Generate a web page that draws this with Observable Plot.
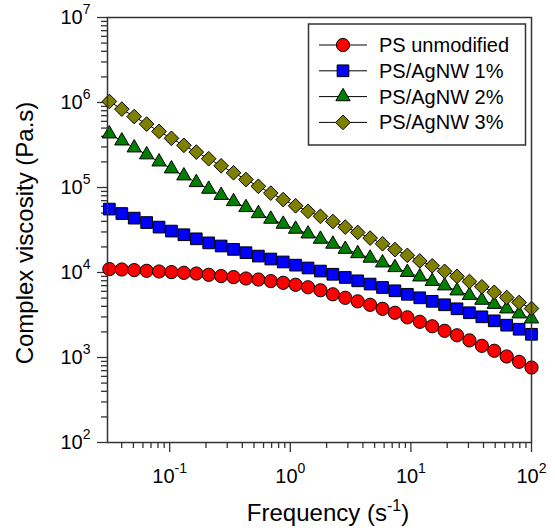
<!DOCTYPE html>
<html><head><meta charset="utf-8">
<script src="https://cdn.jsdelivr.net/npm/d3@7"></script>
<script src="https://cdn.jsdelivr.net/npm/@observablehq/plot@0.6"></script>
<style>body{margin:0;background:#fff} #chart{width:555px;height:530px}</style>
</head><body><div id="chart"></div>
<script>
// ---- data ----
const freq = [0.0316, 0.0401, 0.0508, 0.0644, 0.0816, 0.1034, 0.1311, 0.1662, 0.2106, 0.2670,
  0.3384, 0.4289, 0.5436, 0.6891, 0.8734, 1.107, 1.403, 1.778, 2.254, 2.857,
  3.622, 4.590, 5.818, 7.374, 9.346, 11.85, 15.02, 19.03, 24.12, 30.58,
  38.76, 49.12, 62.26, 78.92, 100];
const psUnmodified = [10960, 10850, 10670, 10470, 10280, 10110, 9920, 9730, 9400, 9070,
  8830, 8500, 8270, 7920, 7570, 7170, 6700, 6180, 5540, 5040,
  4580, 4170, 3740, 3360, 2970, 2630, 2330, 2060, 1825, 1590,
  1373, 1200, 1028, 890, 762];
const psAgNW1 = [55700, 49400, 43600, 38700, 34200, 30700, 27800, 24900, 22300, 20500,
  18700, 17100, 15600, 14400, 13300, 12200, 11300, 10400, 9530, 8740,
  7980, 7310, 6660, 6090, 5540, 5040, 4580, 4170, 3740, 3360,
  3010, 2700, 2400, 2150, 1875];
const psAgNW2 = [428000, 354000, 293000, 243000, 200500, 166000, 137400, 114500, 95700, 80900,
  68400, 58200, 49400, 42500, 37100, 32400, 28500, 24700, 21600, 18800,
  16700, 14800, 13000, 11450, 10050, 8890, 7880, 6980, 6090, 5390,
  4730, 4230, 3740, 3270, 2850];
const psAgNW3 = [1028000, 836000, 683000, 557000, 458000, 379000, 313500, 261000, 218000, 180000,
  149000, 124000, 103300, 85900, 72100, 60900, 52500, 45800, 39800, 34200,
  29600, 25400, 21800, 18600, 15900, 13700, 12000, 10330, 9020, 7840,
  6790, 5850, 5080, 4440, 3770];
const seriesNames = ["PS unmodified", "PS/AgNW 1%", "PS/AgNW 2%", "PS/AgNW 3%"];
const seriesValues = [psUnmodified, psAgNW1, psAgNW2, psAgNW3];
const seriesColors = ["#ff0000", "#0000ff", "#008000", "#808000"];
const seriesSymbols = ["circle", "square", "triangle", "diamond2"];
const seriesR = [6.6, 6.6, 5.3, 6.6];

const xMajorTicks = [0.1, 1, 10, 100];
const xTickLabels = ["10^-1", "10^0", "10^1", "10^2"];
const xMinorTicks = [0.04, 0.05, 0.06, 0.07, 0.08, 0.09, 0.2, 0.3, 0.4, 0.5, 0.6, 0.7, 0.8, 0.9,
  2, 3, 4, 5, 6, 7, 8, 9, 20, 30, 40, 50, 60, 70, 80, 90];
const yMajorTicks = [1e2, 1e3, 1e4, 1e5, 1e6, 1e7];
const yTickLabels = ["10^2", "10^3", "10^4", "10^5", "10^6", "10^7"];
const yMinorTicks = [200, 300, 400, 500, 600, 700, 800, 900,
  2000, 3000, 4000, 5000, 6000, 7000, 8000, 9000,
  20000, 30000, 40000, 50000, 60000, 70000, 80000, 90000,
  200000, 300000, 400000, 500000, 600000, 700000, 800000, 900000,
  2e6, 3e6, 4e6, 5e6, 6e6, 7e6, 8e6, 9e6];
const xTitle = "Frequency (s^-1)";
const yTitle = "Complex viscosity (Pa.s)";

// ---- build ----
const rows = [];
seriesNames.forEach((name, s) => freq.forEach((f, i) => rows.push({series: name, freq: f, eta: seriesValues[s][i]})));

const axisColor = "#333";
const seriesMarks = seriesNames.flatMap((name, s) => {
  const d = rows.filter(r => r.series === name);
  return [
    Plot.line(d, {x: "freq", y: "eta", stroke: "#000", strokeWidth: 1}),
    Plot.dot(d, {x: "freq", y: "eta", symbol: seriesSymbols[s], r: seriesR[s], fill: seriesColors[s], stroke: "#000", strokeWidth: 1})
  ];
});

const chart = Plot.plot({
  width: 555, height: 530,
  marginLeft: 107, marginRight: 24, marginTop: 17, marginBottom: 88,
  style: {fontFamily: "'Liberation Sans', Arial, sans-serif", background: "#fff", color: "#000"},
  x: {type: "log", domain: [0.0305, 100]},
  y: {type: "log", domain: [100, 1e7]},
  marks: [
    Plot.axisX({anchor: "bottom", ticks: xMinorTicks, tickSize: 6, tickFormat: () => "", stroke: axisColor, strokeWidth: 1.3, label: null}),
    Plot.axisX({anchor: "bottom", ticks: xMajorTicks, tickSize: 10, tickPadding: 16, fontSize: 20, stroke: axisColor, strokeWidth: 1.3, label: null,
      tickFormat: d => xTickLabels[xMajorTicks.indexOf(d)]}),
    Plot.axisY({anchor: "left", ticks: yMinorTicks, tickSize: 6, tickFormat: () => "", stroke: axisColor, strokeWidth: 1.3, label: null}),
    Plot.axisY({anchor: "left", ticks: yMajorTicks, tickSize: 10, tickPadding: 7, fontSize: 20, stroke: axisColor, strokeWidth: 1.3, label: null,
      tickFormat: d => yTickLabels[yMajorTicks.indexOf(d)]}),
    ...seriesMarks,
    Plot.frame({stroke: axisColor, strokeWidth: 1.5})
  ]
});

const NS = "http://www.w3.org/2000/svg";
function fillSup(t, s, supSize, shift) {
  const [base, rest] = s.split("^");
  const m = rest.match(/^(-?\d+)(.*)$/);
  t.textContent = "";
  const a = document.createElementNS(NS, "tspan"); a.textContent = base; t.appendChild(a);
  const b = document.createElementNS(NS, "tspan"); b.textContent = m[1];
  b.setAttribute("dy", -shift); b.setAttribute("font-size", supSize); t.appendChild(b);
  if (m[2]) {
    const c = document.createElementNS(NS, "tspan"); c.textContent = m[2];
    c.setAttribute("dy", shift); t.appendChild(c);
  }
}
chart.querySelectorAll("text").forEach(t => {
  const s = t.textContent;
  if (s.includes("^")) fillSup(t, s, 14, 10);
});

const svg = d3.select(chart);
const font = "'Liberation Sans', Arial, sans-serif";
// axis titles
const xt = svg.append("text").attr("x", 328).attr("y", 521).attr("text-anchor", "middle")
  .attr("font-family", font).attr("font-size", 24).attr("fill", "#000").node();
fillSup(xt, xTitle, 16, 10);
svg.append("text").attr("transform", "translate(33,233) rotate(-90)").attr("text-anchor", "middle")
  .attr("font-family", font).attr("font-size", 24).attr("fill", "#000").text(yTitle);

// legend
const lg = svg.append("g");
lg.append("rect").attr("x", 308.5).attr("y", 24).attr("width", 217).attr("height", 121)
  .attr("fill", "#fff").attr("stroke", axisColor).attr("stroke-width", 1.5);
const symMap = {circle: d3.symbolCircle, square: d3.symbolSquare, triangle: d3.symbolTriangle, diamond2: d3.symbolDiamond2};
seriesNames.forEach((name, s) => {
  const y = 45 + s * 25.8;
  lg.append("line").attr("x1", 319).attr("x2", 367).attr("y1", y).attr("y2", y).attr("stroke", "#000").attr("stroke-width", 1);
  lg.append("path").attr("transform", `translate(343,${y})`)
    .attr("d", d3.symbol(symMap[seriesSymbols[s]], Math.PI * seriesR[s] * seriesR[s])())
    .attr("fill", seriesColors[s]).attr("stroke", "#000").attr("stroke-width", 1);
  lg.append("text").attr("x", 379).attr("y", y).attr("dy", "0.35em").attr("text-anchor", "start")
    .attr("font-family", font).attr("font-size", 20).attr("fill", "#000").text(name);
});

document.getElementById("chart").appendChild(chart);
</script>
</body></html>
